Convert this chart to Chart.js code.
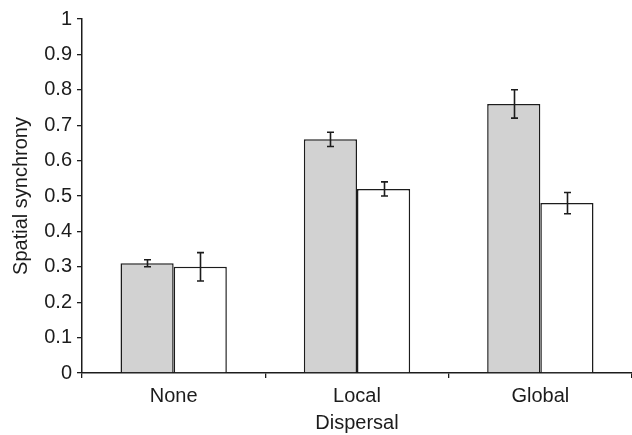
<!DOCTYPE html>
<html>
<head>
<meta charset="utf-8">
<script src="https://cdn.jsdelivr.net/npm/chart.js@4.4.1/dist/chart.umd.min.js"></script>
<style>
  html, body { margin: 0; padding: 0; background: #ffffff; }
  #wrap { width: 632px; height: 435px; position: relative; }
</style>
</head>
<body>
<div id="wrap"><canvas id="c" width="632" height="435"></canvas></div>
<script>
// Dispersal treatments on the x axis
const categories = ['None', 'Local', 'Global'];
// Mean spatial synchrony for the two groups (grey and white bars)
const greyValues = [0.31, 0.66, 0.76];
const whiteValues = [0.30, 0.52, 0.48];
// Half-length of the error bars
const greyErrors = [0.01, 0.02, 0.04];
const whiteErrors = [0.04, 0.02, 0.03];
// y-axis ticks
const yTicks = [0, 0.1, 0.2, 0.3, 0.4, 0.5, 0.6, 0.7, 0.8, 0.9, 1];

const ink = '#1c1c1c';
const fontFamily = '"Liberation Sans", Arial, Helvetica, sans-serif';

// Draws vertical error bars with short caps over every bar
const errorBars = {
  id: 'errorBars',
  afterDatasetsDraw(chart) {
    const ctx = chart.ctx;
    const y = chart.scales.y;
    const errs = [greyErrors, whiteErrors];
    ctx.save();
    ctx.strokeStyle = ink;
    ctx.lineWidth = 1.6;
    chart.data.datasets.forEach((ds, i) => {
      const meta = chart.getDatasetMeta(i);
      meta.data.forEach((bar, j) => {
        const v = ds.data[j];
        const e = errs[i][j];
        const yTop = y.getPixelForValue(v + e);
        const yBot = y.getPixelForValue(v - e);
        const x = Math.round(bar.x) + 0.5;
        const cap = 3.5;
        ctx.beginPath();
        ctx.moveTo(x, yTop); ctx.lineTo(x, yBot);
        ctx.moveTo(x - cap, yTop); ctx.lineTo(x + cap, yTop);
        ctx.moveTo(x - cap, yBot); ctx.lineTo(x + cap, yBot);
        ctx.stroke();
      });
    });
    ctx.restore();
  }
};

new Chart(document.getElementById('c'), {
  type: 'bar',
  data: {
    labels: categories,
    datasets: [
      {
        data: greyValues,
        backgroundColor: '#d2d2d2',
        borderColor: ink,
        borderWidth: 1.5,
        borderSkipped: 'bottom',
        categoryPercentage: 0.58,
        barPercentage: 1.0
      },
      {
        data: whiteValues,
        backgroundColor: '#ffffff',
        borderColor: ink,
        borderWidth: 1.5,
        borderSkipped: 'bottom',
        categoryPercentage: 0.58,
        barPercentage: 1.0
      }
    ]
  },
  options: {
    responsive: false,
    animation: false,
    devicePixelRatio: 1,
    layout: { padding: { top: 19, right: 0, left: 0, bottom: 0 } },
    plugins: {
      legend: { display: false },
      tooltip: { enabled: false }
    },
    scales: {
      x: {
        type: 'category',
        afterFit(scale) { scale.height = 62; },
        grid: {
          offset: true,
          drawOnChartArea: false,
          drawTicks: true,
          tickLength: 5,
          color: ink,
          lineWidth: 1.3
        },
        border: { display: true, color: ink, width: 1.5 },
        ticks: {
          color: ink,
          font: { family: fontFamily, size: 20 },
          padding: 6
        },
        title: {
          display: true,
          text: 'Dispersal',
          color: ink,
          font: { family: fontFamily, size: 20 },
          padding: { top: 0, bottom: 0 }
        }
      },
      y: {
        min: 0,
        max: 1,
        afterFit(scale) { scale.width = 82; },
        afterBuildTicks(scale) { scale.ticks = yTicks.map(v => ({ value: v })); },
        grid: {
          drawOnChartArea: false,
          drawTicks: true,
          tickLength: 5,
          color: ink,
          lineWidth: 1.3
        },
        border: { display: true, color: ink, width: 1.5 },
        ticks: {
          color: ink,
          font: { family: fontFamily, size: 20 },
          padding: 5,
          callback: (v) => String(Math.round(v * 10) / 10)
        },
        title: {
          display: true,
          text: 'Spatial synchrony',
          color: ink,
          font: { family: fontFamily, size: 20 },
          padding: { top: 9, bottom: 0 }
        }
      }
    }
  },
  plugins: [errorBars]
});
</script>
</body>
</html>
